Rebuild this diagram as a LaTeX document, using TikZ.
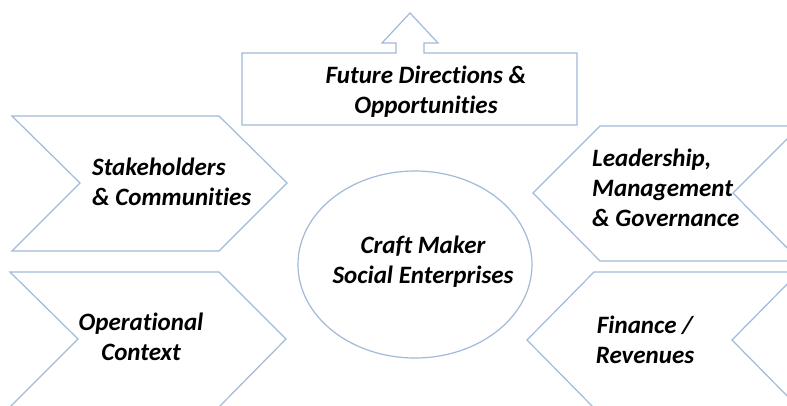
\documentclass[tikz,border=0pt]{standalone}
\usepackage{fontspec}
\setmainfont{Carlito}[Ligatures=NoCommon]
\usetikzlibrary{shapes.geometric}
\definecolor{edgeblue}{RGB}{160,186,216}
\tikzset{
  outline/.style={draw=edgeblue, line width=1.2pt, line join=miter},
  label/.style={font=\fontsize{25}{30}\selectfont\bfseries\itshape, text=black, inner sep=0pt},
}
\begin{document}
\begin{tikzpicture}[x=1pt,y=-1pt]
\useasboundingbox (0,0) rectangle (787,406);
\begin{scope}
\clip (0,0) rectangle (787,406);
% top box with upward arrow
\draw[outline] (242,53) -- (396,53) -- (396,43) -- (382,43) -- (410,13) -- (438,43)
  -- (424,43) -- (424,53) -- (577,53) -- (577,125) -- (242,125) -- cycle;
% left chevrons, pointing right
\draw[outline] (12,116) -- (219,116) -- (287,183) -- (219,251) -- (12,251) -- (80,183) -- cycle;
\draw[outline] (10,272) -- (219,272) -- (286,339) -- (219,407) -- (10,407) -- (78,339) -- cycle;
% right chevrons, pointing left
\draw[outline] (600,126) -- (800,126) -- (733,193) -- (800,261) -- (600,261) -- (533,193) -- cycle;
\draw[outline] (594,272) -- (799,272) -- (732,340) -- (799,408) -- (594,408) -- (527,340) -- cycle;
\end{scope}
% central ellipse
\node[outline, ellipse, minimum width=234pt, minimum height=187pt, inner sep=0pt] (core) at (415,264.5) {};
% labels
\node[label, align=center] (future) at (426,92) {Future Directions \&\\Opportunities};
\node[label, align=left, anchor=west] (stake) at (92,182) {Stakeholders\\\& Communities};
\node[label, align=center] (ops) at (141,337) {Operational\\Context};
\node[label, align=left, anchor=west] (lead) at (592,188) {Leadership,\\Management\\\& Governance};
\node[label, align=center] (fin) at (645,340) {Finance /\\Revenues};
\node[label, align=center] (craft) at (423,262) {Craft Maker\\Social Enterprises};
\end{tikzpicture}
\end{document}
